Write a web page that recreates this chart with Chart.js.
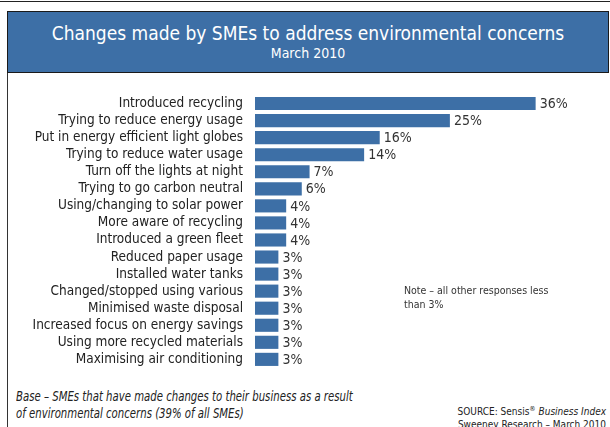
<!DOCTYPE html>
<html>
<head>
<meta charset="utf-8">
<script src="https://cdn.jsdelivr.net/npm/chart.js@4"></script>
<style>
  body { margin: 0; width: 610px; height: 427px; background: #fff; position: relative; overflow: hidden; font-family: "DejaVu Sans Condensed", "DejaVu Sans", sans-serif; }
  #topline { position: absolute; left: 0; top: 1px; width: 610px; height: 1px; background: #222; }
  #header { position: absolute; left: 7px; top: 11px; width: 600px; height: 60px; background: #3d6fa6; border: 1px solid #1a1a1a; color: #fff; text-align: center; }
  #header .t1 { font-size: 19px; margin-top: 10px; line-height: 22px; }
  #header .t2 { font-size: 14px; line-height: 18px; }
  #leftline { position: absolute; left: 7px; top: 73px; width: 1px; height: 354px; background: #333; }
  #grafico { position: absolute; left: 0; top: 74px; }
  #note { position: absolute; left: 404px; top: 283px; font-size: 10.5px; line-height: 14px; color: #333; }
  #base { position: absolute; left: 16px; top: 388px; font-size: 14px; line-height: 17px; font-style: italic; color: #222; white-space: nowrap; transform: scaleX(0.805); transform-origin: left top; }
  #source { position: absolute; right: 4px; top: 403px; font-size: 10px; line-height: 13px; color: #222; text-align: right; }
</style>
</head>
<body>
<div id="topline"></div>
<div id="header">
  <div class="t1">Changes made by SMEs to address environmental concerns</div>
  <div class="t2">March 2010</div>
</div>
<div id="leftline"></div>
<canvas id="grafico" width="610" height="306"></canvas>
<div id="note">Note – all other responses less<br>than 3%</div>
<div id="base">Base – SMEs that have made changes to their business as a result<br>of environmental concerns (39% of all SMEs)</div>
<div id="source">SOURCE: Sensis<sup style="font-size:7px">®</sup> <i>Business Index</i><br>Sweeney Research – March 2010</div>
<script>
// ===== dados =====
const categorias = [
    'Introduced recycling',
    'Trying to reduce energy usage',
    'Put in energy efficient light globes',
    'Trying to reduce water usage',
    'Turn off the lights at night',
    'Trying to go carbon neutral',
    'Using/changing to solar power',
    'More aware of recycling',
    'Introduced a green fleet',
    'Reduced paper usage',
    'Installed water tanks',
    'Changed/stopped using various',
    'Minimised waste disposal',
    'Increased focus on energy savings',
    'Using more recycled materials',
    'Maximising air conditioning'
];
const valores = [36, 25, 16, 14, 7, 6, 4, 4, 4, 3, 3, 3, 3, 3, 3, 3];

// rótulos de valor no fim de cada barra
const rotulos = {
    id: 'rotulos',
    afterDatasetsDraw(chart) {
        const ctx = chart.ctx;
        const meta = chart.getDatasetMeta(0);
        ctx.save();
        ctx.font = '14px "DejaVu Sans Condensed", "DejaVu Sans", sans-serif';
        ctx.fillStyle = '#333';
        ctx.textBaseline = 'middle';
        meta.data.forEach((bar, i) => {
            ctx.fillText(valores[i] + '%', bar.x + 4, bar.y + 1);
        });
        ctx.restore();
    }
};

const ctx = document.getElementById('grafico').getContext('2d');
new Chart(ctx, {
    type: 'bar',
    data: {
        labels: categorias,
        datasets: [{
            data: valores,
            backgroundColor: '#3d6fa6',
            barPercentage: 0.77,
            categoryPercentage: 1
        }]
    },
    options: {
        indexAxis: 'y',
        responsive: false,
        animation: false,
        layout: { padding: { top: 21, bottom: 7, right: 12 } },
        plugins: { legend: { display: false }, tooltip: { enabled: false } },
        scales: {
            x: { display: false, min: 0, max: 44 },
            y: {
                grid: { display: false },
                border: { display: false },
                afterFit(scale) { scale.width = 255; },
                ticks: {
                    autoSkip: false,
                    padding: 4,
                    color: '#222',
                    font: { family: '"DejaVu Sans Condensed", "DejaVu Sans", sans-serif', size: 13.5 }
                }
            }
        }
    },
    plugins: [rotulos]
});
</script>
</body>
</html>
